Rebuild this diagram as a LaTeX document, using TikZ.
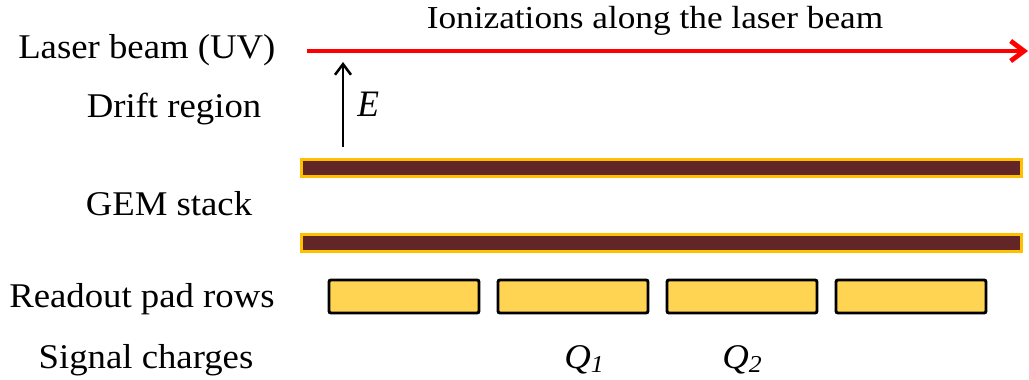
\documentclass[tikz,border=0pt]{standalone}
\usepackage{fontspec}
\setmainfont{Liberation Serif}
\usetikzlibrary{arrows.meta}

\definecolor{gemorange}{HTML}{FFC000}
\definecolor{gembrown}{HTML}{622626}
\definecolor{padyellow}{HTML}{FFD452}

\tikzset{
  lbl/.style={font=\fontsize{26}{30}\selectfont, inner sep=0pt, xscale=1.06},
  gem/.style={draw=gemorange, fill=gembrown, line width=2.6pt},
  pad/.style={draw=black, fill=padyellow, line width=2.2pt, rounded corners=1.5pt},
}

\begin{document}
\begin{tikzpicture}[x=0.75pt, y=-0.75pt]
\useasboundingbox (0,0) rectangle (1029,379);

% labels on the left
\node[lbl, anchor=base west] (laser) at (18,58) {Laser beam (UV)};
\node[lbl, anchor=base] (drift) at (174,117) {Drift region};
\node[lbl, anchor=base] (gem) at (169,215) {GEM stack};
\node[lbl, anchor=base west] (readout) at (9,307) {Readout pad rows};
\node[lbl, anchor=base] (signal) at (146,368) {Signal charges};

% laser beam
\node[lbl, anchor=base, font=\fontsize{24}{28}\selectfont, xscale=1.04] (ioniz) at (655,28) {Ionizations along the laser beam};
\coordinate (beamstart) at (307,51);
\coordinate (beamend) at (1028,51);
\draw[red, line width=3.6pt, -{Straight Barb[length=10pt,width=15pt]}] (beamstart) -- (beamend);

% drift field
\coordinate (efoot) at (343,147);
\coordinate (ehead) at (343,62);
\draw[line width=1.9pt, -{Straight Barb[length=8pt,width=12pt]}] (efoot) -- (ehead);
\node[lbl, anchor=base west, font=\fontsize{28}{32}\selectfont\itshape, xscale=0.9] (efield) at (357,116) {E};

% GEM foils
\draw[gem] (301.5,159.5) rectangle (1021.5,176.5);
\draw[gem] (301.5,234.5) rectangle (1021.5,251.5);

% readout pads
\foreach \x in {329,498,667,836}
  \draw[pad] (\x,280) rectangle ++(150,33);

% signal charges
\node[lbl, anchor=base west, font=\fontsize{26}{30}\selectfont\itshape] (q1) at (564,368) {Q\textsubscript{1}};
\node[lbl, anchor=base west, font=\fontsize{26}{30}\selectfont\itshape] (q2) at (722,368) {Q\textsubscript{2}};
\end{tikzpicture}
\end{document}
